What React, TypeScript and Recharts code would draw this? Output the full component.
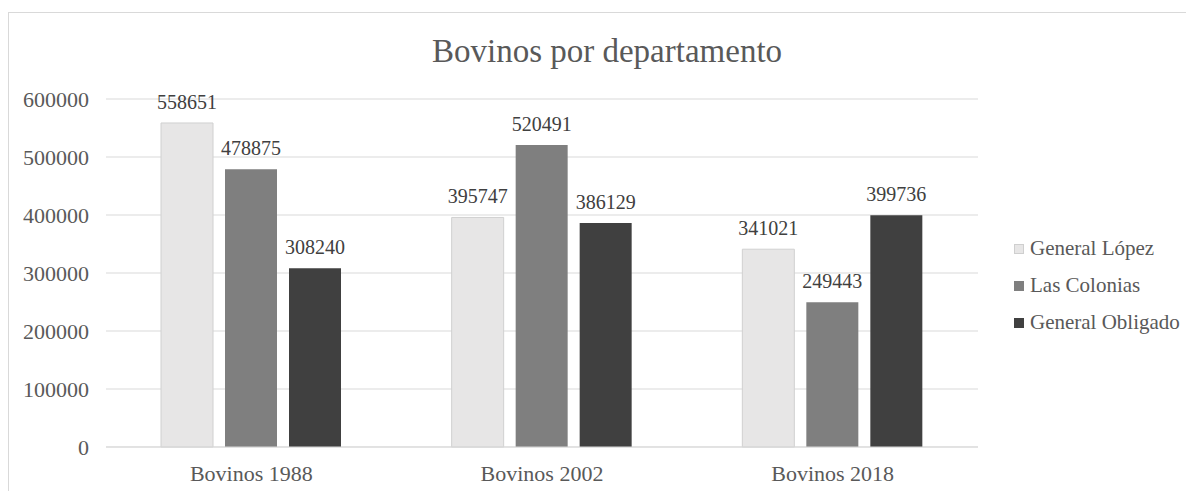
import { BarChart, Bar, XAxis, YAxis, CartesianGrid, Legend, LabelList } from "recharts";

// Values
const categories = ["Bovinos 1988", "Bovinos 2002", "Bovinos 2018"];
const generalLopez = [558651, 395747, 341021];
const lasColonias = [478875, 520491, 249443];
const generalObligado = [308240, 386129, 399736];
const seriesNames = ["General López", "Las Colonias", "General Obligado"];
const yTicks = [0, 100000, 200000, 300000, 400000, 500000, 600000];

const rows = categories.map((name, i) => ({
  name,
  lopez: generalLopez[i],
  colonias: lasColonias[i],
  obligado: generalObligado[i],
}));

const FONT = '"Liberation Serif", "Times New Roman", serif';
const TEXT = "#595959";
const GRID = "#d9d9d9";

function LegendBox({ payload }: any) {
  // keep series order, recharts sorts by name otherwise
  const items = [...(payload || [])].sort(
    (a: any, b: any) => seriesNames.indexOf(a.value) - seriesNames.indexOf(b.value)
  );
  return (
    <div style={{ fontFamily: FONT, fontSize: 21, color: TEXT }}>
      {items.map((p: any) => (
        <div key={p.value} style={{ display: "flex", alignItems: "center", height: 37 }}>
          <span
            style={{
              display: "inline-block",
              width: 8,
              height: 8,
              background: p.color,
              border: "1px solid " + (p.value === "General López" ? "#cfcfcf" : p.color),
              marginRight: 6,
            }}
          />
          <span>{p.value}</span>
        </div>
      ))}
    </div>
  );
}

export default function App() {
  const labelStyle = { fontFamily: FONT, fontSize: 20, fill: "#404040" };
  return (
    <div style={{ position: "relative", width: 1186, height: 483 }}>
      {/* chart frame: only top and left edges are visible in the picture */}
      <div
        style={{
          position: "absolute",
          left: 0,
          top: 4,
          width: 1186,
          height: 479,
          borderTop: "1px solid " + GRID,
          borderLeft: "1px solid " + GRID,
          boxSizing: "border-box",
        }}
      />
      <div
        style={{
          position: "absolute",
          left: 599,
          top: 27,
          transform: "translateX(-50%)",
          whiteSpace: "nowrap",
          fontFamily: FONT,
          fontSize: 33,
          lineHeight: "33px",
          color: TEXT,
        }}
      >
        Bovinos por departamento
      </div>
      <BarChart
        width={1186}
        height={483}
        data={rows}
        margin={{ top: 91, right: 36, left: 0, bottom: 14 }}
        barSize={52}
        barGap={12}
        style={{ position: "absolute", left: 0, top: 0 }}
      >
        <CartesianGrid vertical={false} stroke={GRID} strokeWidth={1} />
        <XAxis
          dataKey="name"
          height={30}
          axisLine={{ stroke: GRID }}
          tickLine={false}
          tickSize={0}
          tickMargin={18}
          tick={{ fontFamily: FONT, fontSize: 22, fill: TEXT }}
        />
        <YAxis
          width={98}
          domain={[0, 600000]}
          ticks={yTicks}
          axisLine={false}
          tickLine={false}
          tickSize={0}
          tickMargin={17}
          tick={{ fontFamily: FONT, fontSize: 22, fill: TEXT }}
        />
        <Legend
          layout="vertical"
          align="right"
          verticalAlign="top"
          content={<LegendBox />}
          wrapperStyle={{ top: 222, left: 1006, width: 180 }}
        />
        <Bar dataKey="lopez" name="General López" fill="#e7e6e6" stroke="#d0d0d0" strokeWidth={1} isAnimationActive={false}>
          <LabelList dataKey="lopez" position="top" offset={14} style={labelStyle} />
        </Bar>
        <Bar dataKey="colonias" name="Las Colonias" fill="#7f7f7f" isAnimationActive={false}>
          <LabelList dataKey="colonias" position="top" offset={14} style={labelStyle} />
        </Bar>
        <Bar dataKey="obligado" name="General Obligado" fill="#404040" isAnimationActive={false}>
          <LabelList dataKey="obligado" position="top" offset={14} style={labelStyle} />
        </Bar>
      </BarChart>
    </div>
  );
}
